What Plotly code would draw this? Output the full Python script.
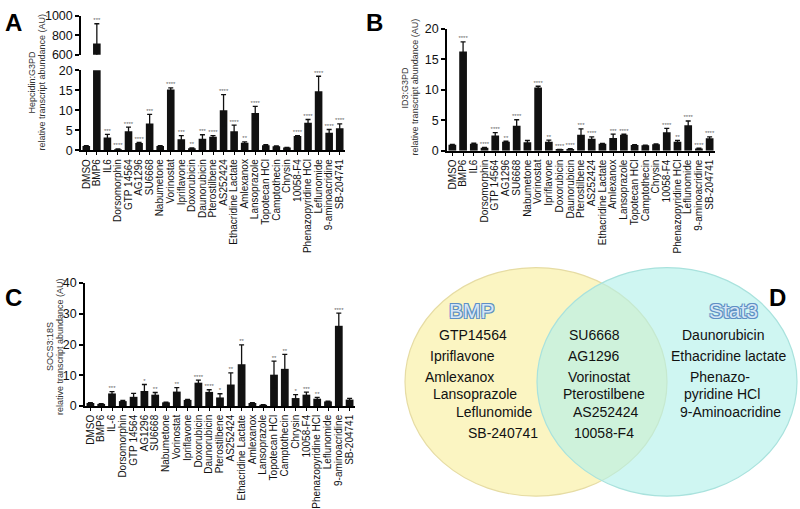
import plotly.graph_objects as go

W, H = 800, 509

cats_ab = ["DMSO", "BMP6", "IL6", "Dorsomorphin", "GTP 14564", "AG1296", "SU6668", "Nabumetone",
           "Vorinostat", "Ipriflavone", "Doxorubicin", "Daunorubicin", "Pterostilbene", "AS252424",
           "Ethacridine Lactate", "Amlexanox", "Lansoprazole", "Topotecan HCl", "Camptothecin",
           "Chrysin", "10058-F4", "Phenazopyridine HCl", "Leflunomide", "9-aminoacridine", "SB-204741"]
cats_c = ["DMSO", "BMP6", "IL-6", "Dorsomorphin", "GTP 14564", "AG1296", "SU6668", "Nabumetone",
          "Vorinostat", "Ipriflavone", "Doxorubicin", "Daunorubicin", "Pterostilbene", "AS252424",
          "Ethacridine Lactate", "Amlexanox", "Lansoprazole", "Topotecan HCl", "Camptothecin",
          "Chrysin", "10058-F4", "Phenazopyridine HCl", "Leflunomide", "9-aminoacridine", "SB-204741"]

hep_vals = [1.1, 716, 3.2, 0.3, 4.75, 1.85, 6.7, 1.1, 15.2, 2.8, 0.5, 2.9, 3.4, 10.0, 4.8, 1.9,
            9.35, 1.3, 1.05, 0.7, 3.6, 6.9, 14.75, 4.4, 5.5]
hep_err = [0.1, 204, 0.8, 0.05, 1.05, 0.15, 2.3, 0.1, 0.4, 0.9, 0.1, 1.0, 0.3, 3.9, 1.5, 0.2,
           1.65, 0.1, 0.05, 0.05, 0.1, 0.8, 3.75, 0.8, 1.1]
hep_sig = ["", "***", "***", "****", "****", "****", "***", "", "****", "***", "**", "***", "****",
           "****", "****", "**", "****", "", "", "", "****", "****", "****", "****", "****"]

id3_vals = [1.0, 16.3, 1.16, 0.5, 2.5, 1.5, 4.1, 1.4, 10.4, 1.5, 0.2, 0.3, 2.65, 2.0, 1.15, 2.1,
            2.65, 0.95, 0.9, 1.1, 3.05, 1.5, 4.2, 0.4, 2.05]
id3_err = [0.05, 1.6, 0.1, 0.05, 0.5, 0.1, 1.0, 0.3, 0.2, 0.25, 0.05, 0.05, 0.95, 0.3, 0.05, 0.65,
           0.1, 0.05, 0.05, 0.05, 0.65, 0.2, 0.7, 0.05, 0.25]
id3_sig = ["", "****", "", "****", "****", "**", "****", "", "****", "**", "****", "****", "***",
           "****", "", "***", "****", "", "", "", "****", "**", "****", "****", "****"]

socs_vals = [1.0, 0.7, 4.1, 1.6, 3.0, 4.9, 3.7, 1.2, 4.7, 2.0, 7.6, 4.6, 2.8, 7.0, 13.6, 1.0, 0.4,
             10.2, 12.1, 2.6, 3.7, 2.4, 1.5, 26.1, 2.1]
socs_err = [0.1, 0.1, 0.6, 0.2, 1.1, 2.1, 0.7, 0.1, 1.3, 0.2, 0.8, 0.7, 1.2, 3.8, 6.3, 0.1, 0.05,
            4.4, 4.7, 1.1, 0.8, 0.4, 0.1, 4.1, 0.4]
socs_sig = ["", "", "***", "", "", "*", "**", "", "**", "", "****", "****", "*", "**", "**", "", "",
            "**", "**", "*", "***", "**", "", "****", ""]

bmp_only = ["GTP14564", "Ipriflavone", "Amlexanox", "Lansoprazole", "Leflunomide", "SB-240741"]
both = ["SU6668", "AG1296", "Vorinostat", "Pterostilbene", "AS252424", "10058-F4"]
stat3_only = ["Daunorubicin", "Ethacridine lactate", "Phenazo-", "pyridine HCl", "9-Aminoacridine"]

FONT = "Liberation Sans, Arial, sans-serif"


def px(x):
    return x / W


def py(y):
    return 1 - y / H


fig = go.Figure()


def add_panel(cats, vals, errs, sig, xa, ya, rng):
    fig.add_trace(go.Bar(
        x=cats, y=vals, xaxis=xa, yaxis=ya, width=0.72,
        marker=dict(color="#111111", line=dict(width=0)),
        error_y=dict(type="data", array=errs, symmetric=True, color="#111111",
                     thickness=1.3, width=2.5),
        showlegend=False, hoverinfo="skip"))
    sx, sy, st = [], [], []
    for c, v, e, s in zip(cats, vals, errs, sig):
        top = v + e
        if s and rng[0] <= top <= rng[1]:
            sx.append(c)
            sy.append(top)
            st.append(s)
    fig.add_trace(go.Scatter(
        x=sx, y=sy, xaxis=xa, yaxis=ya, mode="text", text=st,
        textposition="top center", textfont=dict(size=6, color="#666666", family=FONT),
        showlegend=False, hoverinfo="skip", cliponaxis=False))


add_panel(cats_ab, hep_vals, hep_err, hep_sig, "x", "y", (0, 20))
add_panel(cats_ab, hep_vals, hep_err, hep_sig, "x", "y2", (600, 1000))
add_panel(cats_ab, id3_vals, id3_err, id3_sig, "x2", "y3", (0, 20))
add_panel(cats_c, socs_vals, socs_err, socs_sig, "x3", "y4", (0, 40))


def xax(cats, dom, anchor):
    return dict(type="category", domain=dom, anchor=anchor, showline=True, linecolor="black",
                linewidth=1.5, ticks="outside", ticklen=3, tickwidth=1, tickcolor="black",
                tickmode="array", tickvals=cats, ticktext=cats,
                tickangle=-90, tickfont=dict(size=10, color="#111111", family=FONT),
                showgrid=False, zeroline=False, range=[-0.5, 24.5])


ycommon = dict(showline=True, linecolor="black", linewidth=1.5, ticks="outside", ticklen=4,
               tickwidth=1.5, tickcolor="black", tickfont=dict(size=12.5, color="#111111", family=FONT),
               showgrid=False, zeroline=False)

fig.update_layout(
    width=W, height=H, autosize=False, margin=dict(l=0, r=0, t=0, b=0),
    paper_bgcolor="white", plot_bgcolor="rgba(0,0,0,0)", barmode="overlay",
    font=dict(family=FONT),
    xaxis=xax(cats_ab, [px(81), px(345)], "y"),
    yaxis=dict(domain=[py(148), py(65.3)], range=[0, 20], tickvals=[0, 5, 10, 15, 20],
               anchor="x", **ycommon),
    yaxis2=dict(domain=[py(49.3), py(9.3)], range=[600, 1000], tickvals=[600, 800, 1000],
                anchor="x", **ycommon),
    xaxis2=xax(cats_ab, [px(447), px(715)], "y3"),
    yaxis3=dict(domain=[py(148.5), py(22.7)], range=[0, 20], tickvals=[0, 5, 10, 15, 20],
                anchor="x2", **ycommon),
    xaxis3=xax(cats_c, [px(85), px(355)], "y4"),
    yaxis4=dict(domain=[py(412), py(285)], range=[0, 40], tickvals=[0, 10, 20, 30, 40],
                anchor="x3", **ycommon),
)

# Venn circles
fig.add_shape(type="circle", xref="paper", yref="paper", layer="below",
              x0=px(405), x1=px(667), y0=py(505), y1=py(269),
              fillcolor="#FBF5C2", line=dict(color="#E6DCA4", width=1.2))
fig.add_shape(type="circle", xref="paper", yref="paper", layer="below",
              x0=px(537), x1=px(797), y0=py(505), y1=py(269),
              fillcolor="rgba(178,240,234,0.62)", line=dict(color="#A9E2DD", width=1.2))

ann = []
for letter, (lx, ly) in {"A": (13, 16), "B": (374, 16), "C": (13, 300), "D": (777, 300)}.items():
    ann.append(dict(x=px(lx), y=py(ly), xref="paper", yref="paper", text="<b>%s</b>" % letter,
                    showarrow=False, font=dict(size=24, color="black", family=FONT),
                    xanchor="center", yanchor="middle"))

ytitles = [
    (("Hepcidin:G3PD", 32), ("relative transcript abundance (AU)", 42), 78),
    (("ID3:G3PD", 405), ("relative transcript abundance (AU)", 415), 83),
    (("SOCS3:18S", 50), ("relative transcript abundance (AU)", 60), 351),
]
for (t1, x1), (t2, x2), yc in ytitles:
    for t, xx in ((t1, x1), (t2, x2)):
        ann.append(dict(x=px(xx), y=py(yc), xref="paper", yref="paper", text=t, textangle=-90,
                        showarrow=False, font=dict(size=9, color="#333333", family=FONT),
                        xanchor="center", yanchor="middle"))

outline = ("-1px -1px 0 #5E8FC4, 1px -1px 0 #5E8FC4, -1px 1px 0 #5E8FC4, 1px 1px 0 #5E8FC4")
for t, (xx, yy) in (("BMP", (472, 313)), ("Stat3", (733, 313))):
    ann.append(dict(x=px(xx), y=py(yy), xref="paper", yref="paper", text=t, showarrow=False,
                    font=dict(size=21, color="#D6E6F5", family=FONT, shadow=outline),
                    xanchor="center", yanchor="middle"))

bmp_pos = [(473, 339), (462, 360), (460, 382), (475, 400), (494, 418), (503, 440)]
both_pos = [(594, 339), (594, 360), (599, 382), (604, 400), (606, 418), (604, 440)]
stat_pos = [(723, 339), (728, 360), (720, 382), (722, 400), (730, 418)]
for names, pos in ((bmp_only, bmp_pos), (both, both_pos), (stat3_only, stat_pos)):
    for t, (xx, yy) in zip(names, pos):
        ann.append(dict(x=px(xx), y=py(yy), xref="paper", yref="paper", text=t, showarrow=False,
                        font=dict(size=14, color="#111111", family=FONT),
                        xanchor="center", yanchor="middle"))

fig.update_layout(annotations=ann)
fig.write_html("out.html", config={"displayModeBar": False},
               post_script="document.body.style.margin='0';document.body.style.padding='0';")
